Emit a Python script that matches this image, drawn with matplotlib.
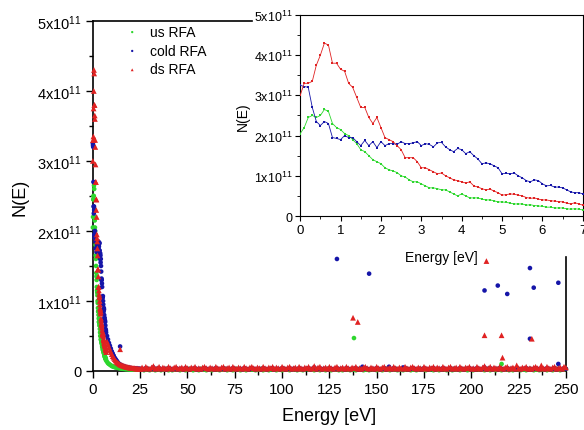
import numpy as np
import matplotlib
matplotlib.use("Agg")
import matplotlib.pyplot as plt
from matplotlib.ticker import MultipleLocator

plt.rcParams['font.family'] = ['Liberation Sans', 'DejaVu Sans']
plt.rcParams['mathtext.fontset'] = 'custom'
plt.rcParams['mathtext.rm'] = 'Liberation Sans'
plt.rcParams['mathtext.it'] = 'Liberation Sans:italic'

# ---------------- data (N(E) in units of 1e11) ----------------
# low-energy spectra, 0..7 eV, 0.1 eV step
E_low = np.round(np.arange(0, 7.01, 0.1), 2)
us_low = [2.05, 2.2, 2.45, 2.5, 2.45, 2.5, 2.65, 2.6, 2.3, 2.2,
          2.15, 2.05, 2.0, 1.9, 1.8, 1.65, 1.6, 1.5, 1.4, 1.35,
          1.3, 1.2, 1.15, 1.12, 1.08, 1.0, 0.97, 0.9, 0.85, 0.85,
          0.8, 0.75, 0.7, 0.7, 0.68, 0.65, 0.65, 0.6, 0.55, 0.5,
          0.55, 0.5, 0.45, 0.45, 0.45, 0.42, 0.4, 0.4, 0.38, 0.35,
          0.35, 0.34, 0.32, 0.3, 0.3, 0.3, 0.27, 0.28, 0.26, 0.25,
          0.24, 0.22, 0.22, 0.2, 0.2, 0.2, 0.18, 0.17, 0.18, 0.17, 0.15]
cold_low = [3.25, 3.22, 3.2, 2.7, 2.35, 2.25, 2.35, 2.3, 1.95, 1.93,
            1.9, 2.0, 1.95, 1.95, 1.85, 1.75, 1.88, 1.75, 1.85, 1.7,
            1.85, 1.75, 1.8, 1.8, 1.78, 1.85, 1.8, 1.8, 1.82, 1.85,
            1.75, 1.8, 1.78, 1.72, 1.82, 1.83, 1.72, 1.65, 1.6, 1.68,
            1.65, 1.55, 1.6, 1.5, 1.42, 1.3, 1.32, 1.3, 1.25, 1.2,
            1.05, 1.06, 1.05, 1.07, 1.0, 0.95, 0.88, 0.85, 0.9, 0.88,
            0.8, 0.75, 0.76, 0.72, 0.72, 0.7, 0.65, 0.6, 0.58, 0.58, 0.55]
ds_low = [3.0, 3.3, 3.3, 3.35, 3.75, 4.0, 4.3, 4.25, 3.8, 3.8,
          3.65, 3.6, 3.3, 3.2, 2.95, 2.7, 2.7, 2.45, 2.3, 2.45,
          2.2, 1.95, 1.9, 1.85, 1.75, 1.65, 1.45, 1.45, 1.45, 1.35,
          1.2, 1.2, 1.15, 1.1, 1.05, 1.07, 1.0, 0.95, 0.9, 0.88,
          0.85, 0.82, 0.85, 0.75, 0.72, 0.68, 0.65, 0.67, 0.62, 0.58,
          0.52, 0.53, 0.55, 0.54, 0.52, 0.5, 0.46, 0.44, 0.45, 0.42,
          0.4, 0.4, 0.38, 0.37, 0.36, 0.35, 0.32, 0.3, 0.33, 0.3, 0.27]

# tail region 7.5..25 eV, 0.5 eV step
E_mid = np.round(np.arange(7.5, 25.01, 0.5), 2)
us_mid = [0.13, 0.11, 0.1, 0.09, 0.08, 0.07, 0.065, 0.06, 0.055, 0.05,
          0.048, 0.045, 0.042, 0.04, 0.038, 0.035, 0.033, 0.03, 0.03, 0.028,
          0.027, 0.026, 0.025, 0.024, 0.023, 0.022, 0.022, 0.021, 0.02, 0.02,
          0.02, 0.019, 0.019, 0.018, 0.018, 0.018]
cold_mid = [0.5, 0.45, 0.4, 0.36, 0.32, 0.28, 0.25, 0.22, 0.19, 0.17,
            0.15, 0.13, 0.11, 0.1, 0.09, 0.08, 0.075, 0.07, 0.065, 0.06,
            0.055, 0.05, 0.05, 0.045, 0.045, 0.04, 0.04, 0.038, 0.036, 0.035,
            0.034, 0.033, 0.032, 0.031, 0.03, 0.03]
ds_mid = [0.42, 0.38, 0.34, 0.3, 0.27, 0.24, 0.21, 0.19, 0.17, 0.15,
          0.13, 0.12, 0.11, 0.1, 0.09, 0.085, 0.08, 0.075, 0.07, 0.065,
          0.06, 0.06, 0.055, 0.05, 0.05, 0.045, 0.045, 0.04, 0.04, 0.04,
          0.035, 0.035, 0.035, 0.03, 0.03, 0.03]

# baseline 26..250 eV, 1 eV step (units of 1e9)
E_base = np.arange(26, 251, 1)
us_base_e9 = [2, 1, 2, 3, 1, 2, 2, 1, 3, 2, 1, 2, 2, 3, 1, 2, 1, 2, 3, 2, 1, 2, 2, 1, 2,
              3, 2, 1, 2, 2, 1, 3, 2, 2, 1, 2, 2, 1, 2, 3, 2, 1, 2, 2, 3, 1, 2, 2, 1, 2,
              3, 2, 1, 2, 2, 1, 2, 3, 2, 2, 1, 2, 2, 3, 1, 2, 2, 1, 2, 3, 2, 1, 2, 2, 1,
              3, 2, 2, 1, 2, 2, 3, 1, 2, 2, 1, 2, 3, 2, 2, 2, 1, 2, 3, 1, 2, 2, 1, 3, 2,
              1, 2, 2, 3, 1, 2, 1, 2, 3, 2, 1, 2, 2, 1, 2, 3, 2, 1, 2, 2, 1, 3, 2, 2, 1,
              2, 2, 1, 2, 3, 2, 1, 2, 2, 3, 1, 2, 2, 1, 2, 3, 2, 1, 2, 2, 1, 2, 3, 2, 2,
              1, 2, 2, 3, 1, 2, 2, 1, 2, 3, 2, 1, 2, 2, 1, 3, 2, 2, 1, 2, 2, 3, 1, 2, 2,
              1, 2, 3, 2, 2, 2, 1, 2, 3, 1, 2, 2, 1, 3, 2, 1, 2, 2, 3, 1, 2, 1, 2, 3, 2,
              1, 2, 2, 1, 2, 3, 2, 1, 2, 2, 1, 3, 2, 2, 1, 2, 2, 1, 2, 3, 2, 1, 2, 2, 3]
cold_base_e9 = [3, 2, 4, 3, 2, 3, 5, 2, 3, 4, 2, 3, 3, 2, 4, 3, 2, 3, 4, 2, 3, 3, 2, 4, 3,
                2, 3, 3, 4, 2, 3, 2, 3, 4, 3, 2, 3, 3, 2, 4, 3, 2, 3, 4, 2, 3, 3, 2, 4, 3,
                2, 3, 3, 2, 4, 3, 2, 3, 4, 3, 2, 3, 3, 2, 4, 3, 2, 3, 3, 4, 2, 3, 3, 2, 4,
                3, 2, 3, 4, 2, 3, 3, 2, 4, 3, 2, 3, 3, 4, 2, 3, 5, 2, 3, 4, 2, 3, 3, 2, 4,
                3, 2, 3, 4, 2, 3, 3, 2, 4, 3, 2, 3, 3, 4, 2, 3, 2, 3, 4, 3, 2, 3, 3, 2, 4,
                3, 2, 3, 4, 2, 3, 3, 2, 4, 3, 2, 3, 3, 2, 4, 3, 2, 3, 4, 3, 2, 3, 3, 2, 4,
                3, 2, 3, 3, 4, 2, 3, 3, 2, 4, 3, 2, 3, 4, 2, 3, 3, 2, 4, 3, 2, 3, 3, 4, 2,
                3, 2, 4, 3, 2, 3, 5, 2, 3, 4, 2, 3, 3, 2, 4, 3, 2, 3, 4, 2, 3, 3, 2, 4, 3,
                2, 3, 3, 4, 2, 3, 2, 3, 4, 3, 2, 3, 3, 2, 4, 3, 2, 3, 4, 2, 3, 3, 2, 4, 3]
ds_base_e9 = [5, 3, 6, 4, 3, 5, 7, 3, 4, 6, 3, 5, 4, 3, 6, 4, 3, 5, 6, 3, 4, 5, 3, 6, 4,
              3, 5, 4, 6, 3, 4, 3, 5, 6, 4, 3, 5, 4, 3, 6, 4, 3, 5, 6, 3, 4, 5, 3, 6, 4,
              3, 5, 4, 3, 6, 4, 3, 5, 6, 4, 3, 5, 4, 3, 6, 4, 3, 5, 4, 6, 3, 5, 4, 3, 6,
              4, 3, 5, 6, 3, 4, 5, 3, 6, 4, 3, 5, 4, 6, 3, 4, 7, 3, 5, 6, 3, 4, 5, 3, 6,
              4, 3, 5, 6, 3, 4, 5, 3, 6, 4, 3, 5, 4, 6, 3, 4, 3, 5, 6, 4, 3, 5, 4, 3, 6,
              4, 3, 5, 6, 3, 4, 5, 3, 6, 4, 3, 5, 4, 3, 6, 4, 3, 5, 6, 4, 3, 5, 4, 3, 6,
              4, 3, 5, 4, 6, 3, 5, 4, 3, 6, 4, 3, 5, 6, 3, 4, 5, 3, 6, 4, 3, 5, 4, 6, 3,
              4, 3, 6, 4, 3, 5, 7, 3, 4, 6, 3, 5, 4, 3, 6, 4, 3, 5, 6, 3, 4, 5, 3, 8, 4,
              3, 5, 4, 6, 3, 4, 3, 5, 6, 4, 3, 5, 4, 3, 6, 4, 3, 5, 6, 3, 4, 5, 3, 6, 5]

# isolated outlier points (E in eV, N in 1e11)
us_out_E = [138, 216]
us_out_N = [0.47, 0.10]
cold_out_E = [14.4, 129, 146, 142.5, 156.5, 164, 207, 214, 219, 231, 233, 246, 231, 246]
cold_out_N = [0.35, 1.60, 1.39, 0.06, 0.06, 0.05, 1.15, 1.22, 1.10, 1.47, 1.19, 1.26, 0.46, 0.10]
ds_out_E = [14.4, 137.5, 140, 208, 207, 216, 216.5, 232, 237]
ds_out_N = [0.31, 0.76, 0.70, 1.57, 0.51, 0.51, 0.19, 0.46, 0.08]

labels = ['us RFA', 'cold RFA', 'ds RFA']
colors = ['#2ed62e', '#1515a8', '#e02222']

main_yticks = [0, 1, 2, 3, 4, 5]
main_yticklabels = ['0'] + [f'{v}x10$^{{11}}$' for v in main_yticks[1:]]
main_xticks = [0, 25, 50, 75, 100, 125, 150, 175, 200, 225, 250]
inset_xticks = [0, 1, 2, 3, 4, 5, 6, 7]

# ---------------- figure ----------------
fig = plt.figure(figsize=(5.84, 4.31), dpi=100)
ax = fig.add_axes([0.159, 0.137, 0.81, 0.812])

def full(lowv, midv, basev_e9, oE, oN):
    E = np.concatenate([E_low, E_mid, E_base, oE])
    N = np.concatenate([lowv, midv, np.array(basev_e9) / 100.0, oN])
    return E, N

series = [
    full(us_low, us_mid, us_base_e9, us_out_E, us_out_N),
    full(cold_low, cold_mid, cold_base_e9, cold_out_E, cold_out_N),
    full(ds_low, ds_mid, ds_base_e9, ds_out_E, ds_out_N),
]
markers = ['o', 'o', '^']
sizes = [11, 11, 17]
for (E, N), c, m, sz, lab in zip(series, colors, markers, sizes, labels):
    ax.scatter(E, N, s=sz, marker=m, color=c, edgecolors='none', label=lab,
               clip_on=False, zorder=3)

ax.set_xlim(0, 250)
ax.set_ylim(0, 5)
ax.set_xticks(main_xticks)
ax.xaxis.set_minor_locator(MultipleLocator(12.5))
ax.set_yticks(main_yticks)
ax.set_yticklabels(main_yticklabels)
ax.yaxis.set_minor_locator(MultipleLocator(0.5))
ax.tick_params(axis='both', which='major', direction='out', length=5, width=1.0,
               labelsize=11, pad=3)
ax.tick_params(axis='both', which='minor', direction='out', length=3, width=1.0)
ax.tick_params(axis='y', labelsize=10.5)
ax.set_xlabel('Energy [eV]', fontsize=13, labelpad=8)
ax.set_ylabel('N(E)', fontsize=13, labelpad=6)
for s in ax.spines.values():
    s.set_linewidth(1.2)
ax.spines['right'].set_bounds(0, 1.63)
ax.spines['top'].set_bounds(0, 84)

leg = ax.legend(loc='upper left', bbox_to_anchor=(0.045, 1.025), frameon=False,
                fontsize=10, handlelength=0.8, handletextpad=0.9,
                labelspacing=0.35, markerscale=0.5)

# ---------------- inset ----------------
ins = fig.add_axes([0.514, 0.4965, 0.484, 0.4665])
for y, c, lab in zip([us_low, cold_low, ds_low], colors, labels):
    ins.plot(E_low, y, color=c, lw=0.6, marker='s', ms=1.8, mew=0, zorder=3)
ins.set_xlim(0, 7)
ins.set_ylim(0, 5)
ins.set_xticks(inset_xticks)
ins.xaxis.set_minor_locator(MultipleLocator(0.5))
ins.set_yticks(main_yticks)
ins.set_yticklabels(main_yticklabels)
ins.yaxis.set_minor_locator(MultipleLocator(0.5))
ins.tick_params(axis='both', which='major', direction='out', length=3.5, labelsize=9.5, pad=2)
ins.tick_params(axis='both', which='minor', direction='out', length=2)
ins.tick_params(axis='y', labelsize=9)
ins.set_xlabel('Energy [eV]', fontsize=10, labelpad=10)
ins.set_ylabel('N(E)', fontsize=10, labelpad=3)

fig.savefig('out.png', dpi=100)
